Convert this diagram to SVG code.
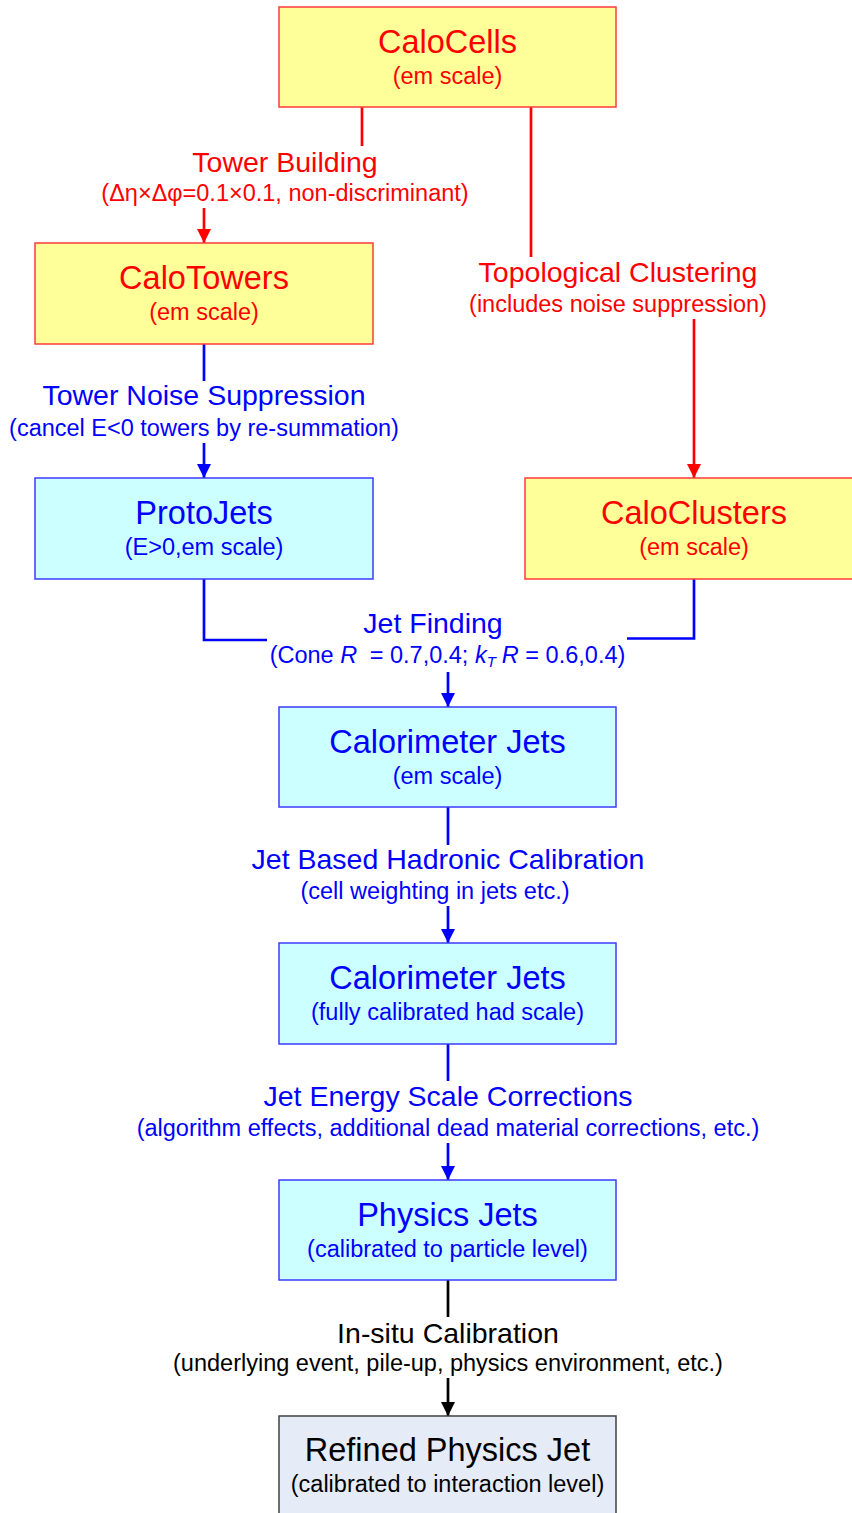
<svg xmlns="http://www.w3.org/2000/svg" width="852" height="1513" viewBox="0 0 852 1513">
<style>
text{font-family:"Liberation Sans",Arial,sans-serif;text-anchor:middle}
.t{font-size:32.5px}
.s{font-size:23.5px}
.lt{font-size:28.5px}
.ls{font-size:23.5px}
.red{fill:#ff0000}
.blue{fill:#0000ff}
.blk{fill:#000000}
.ybox{fill:#ffff99;stroke:#ff3b3b;stroke-width:1.5}
.cbox{fill:#ccffff;stroke:#3b3bff;stroke-width:1.5}
.gbox{fill:#e6ecf7;stroke:#404040;stroke-width:1.5}
.cr{stroke:#ff0000;stroke-width:2.7;fill:none}
.cb{stroke:#0000ff;stroke-width:2.7;fill:none}
.ck{stroke:#000000;stroke-width:2.7;fill:none}
</style>
<defs>
<marker id="ar" markerUnits="userSpaceOnUse" markerWidth="16" markerHeight="16" refX="14" refY="7" orient="auto"><path d="M0,0 L14,7 L0,14 z" fill="#ff0000"/></marker>
<marker id="ab" markerUnits="userSpaceOnUse" markerWidth="16" markerHeight="16" refX="14" refY="7" orient="auto"><path d="M0,0 L14,7 L0,14 z" fill="#0000ff"/></marker>
<marker id="ak" markerUnits="userSpaceOnUse" markerWidth="16" markerHeight="16" refX="14" refY="7" orient="auto"><path d="M0,0 L14,7 L0,14 z" fill="#000000"/></marker>
</defs>
<g id="connectors">
<line class="cr" x1="362" y1="107" x2="362" y2="146"/>
<line class="cr" x1="204" y1="208" x2="204" y2="243" marker-end="url(#ar)"/>
<line class="cr" x1="531" y1="107" x2="531" y2="257"/>
<line class="cr" x1="694" y1="319" x2="694" y2="478" marker-end="url(#ar)"/>
<line class="cb" x1="204" y1="344" x2="204" y2="381"/>
<line class="cb" x1="204" y1="443" x2="204" y2="478" marker-end="url(#ab)"/>
<polyline class="cb" points="204,579 204,640 267,640"/>
<polyline class="cb" points="694,579 694,638.5 627,638.5"/>
<line class="cb" x1="448" y1="672" x2="448" y2="707" marker-end="url(#ab)"/>
<line class="cb" x1="448" y1="807" x2="448" y2="845"/>
<line class="cb" x1="448" y1="906" x2="448" y2="943" marker-end="url(#ab)"/>
<line class="cb" x1="448" y1="1044" x2="448" y2="1081"/>
<line class="cb" x1="448" y1="1143" x2="448" y2="1180" marker-end="url(#ab)"/>
<line class="ck" x1="448" y1="1280" x2="448" y2="1317"/>
<line class="ck" x1="448" y1="1378" x2="448" y2="1416" marker-end="url(#ak)"/>
</g>
<g id="label-tower-building">
<text class="lt red" x="285" y="172">Tower Building</text>
<text class="ls red" x="285" y="201">(Δη×Δφ=0.1×0.1, non-discriminant)</text>
</g>
<g id="label-topo">
<text class="lt red" x="618" y="282">Topological Clustering</text>
<text class="ls red" x="618" y="312">(includes noise suppression)</text>
</g>
<g id="label-noise">
<text class="lt blue" x="204" y="405">Tower Noise Suppression</text>
<text class="ls blue" x="204" y="436">(cancel E&lt;0 towers by re-summation)</text>
</g>
<g id="label-jetfinding">
<text class="lt blue" x="433" y="633">Jet Finding</text>
<text class="ls blue" x="447.5" y="663">(Cone <tspan font-style="italic">R</tspan><tspan dx="6"> = 0.7,0.4; </tspan><tspan font-style="italic">k</tspan><tspan font-style="italic" font-size="15" dy="4">T</tspan><tspan dy="-4" dx="6" font-style="italic">R</tspan> = 0.6,0.4)</text>
</g>
<g id="label-hadronic">
<text class="lt blue" x="448" y="869">Jet Based Hadronic Calibration</text>
<text class="ls blue" x="435" y="899">(cell weighting in jets etc.)</text>
</g>
<g id="label-jes">
<text class="lt blue" x="448" y="1106">Jet Energy Scale Corrections</text>
<text class="ls blue" x="448" y="1136">(algorithm effects, additional dead material corrections, etc.)</text>
</g>
<g id="label-insitu">
<text class="lt blk" x="448" y="1343">In-situ Calibration</text>
<text class="ls blk" x="448" y="1371">(underlying event, pile-up, physics environment, etc.)</text>
</g>
<g id="node-calocells">
<rect class="ybox" x="279" y="7" width="337" height="100"/>
<text class="t red" x="447.5" y="53">CaloCells</text>
<text class="s red" x="447.5" y="84">(em scale)</text>
</g>
<g id="node-calotowers">
<rect class="ybox" x="35" y="243" width="338" height="101"/>
<text class="t red" x="204" y="289">CaloTowers</text>
<text class="s red" x="204" y="320">(em scale)</text>
</g>
<g id="node-caloclusters">
<rect class="ybox" x="525" y="478" width="340" height="101"/>
<text class="t red" x="694" y="524">CaloClusters</text>
<text class="s red" x="694" y="555">(em scale)</text>
</g>
<g id="node-protojets">
<rect class="cbox" x="35" y="478" width="338" height="101"/>
<text class="t blue" x="204" y="524">ProtoJets</text>
<text class="s blue" x="204" y="555">(E&gt;0,em scale)</text>
</g>
<g id="node-calojets-em">
<rect class="cbox" x="279" y="707" width="337" height="100"/>
<text class="t blue" x="447.5" y="753">Calorimeter Jets</text>
<text class="s blue" x="447.5" y="784">(em scale)</text>
</g>
<g id="node-calojets-had">
<rect class="cbox" x="279" y="943" width="337" height="101"/>
<text class="t blue" x="447.5" y="989">Calorimeter Jets</text>
<text class="s blue" x="447.5" y="1020">(fully calibrated had scale)</text>
</g>
<g id="node-physicsjets">
<rect class="cbox" x="279" y="1180" width="337" height="100"/>
<text class="t blue" x="447.5" y="1226">Physics Jets</text>
<text class="s blue" x="447.5" y="1257">(calibrated to particle level)</text>
</g>
<g id="node-refined">
<rect class="gbox" x="279" y="1416" width="337" height="110"/>
<text class="t blk" x="447.5" y="1461">Refined Physics Jet</text>
<text class="s blk" x="447.5" y="1492">(calibrated to interaction level)</text>
</g>
</svg>
